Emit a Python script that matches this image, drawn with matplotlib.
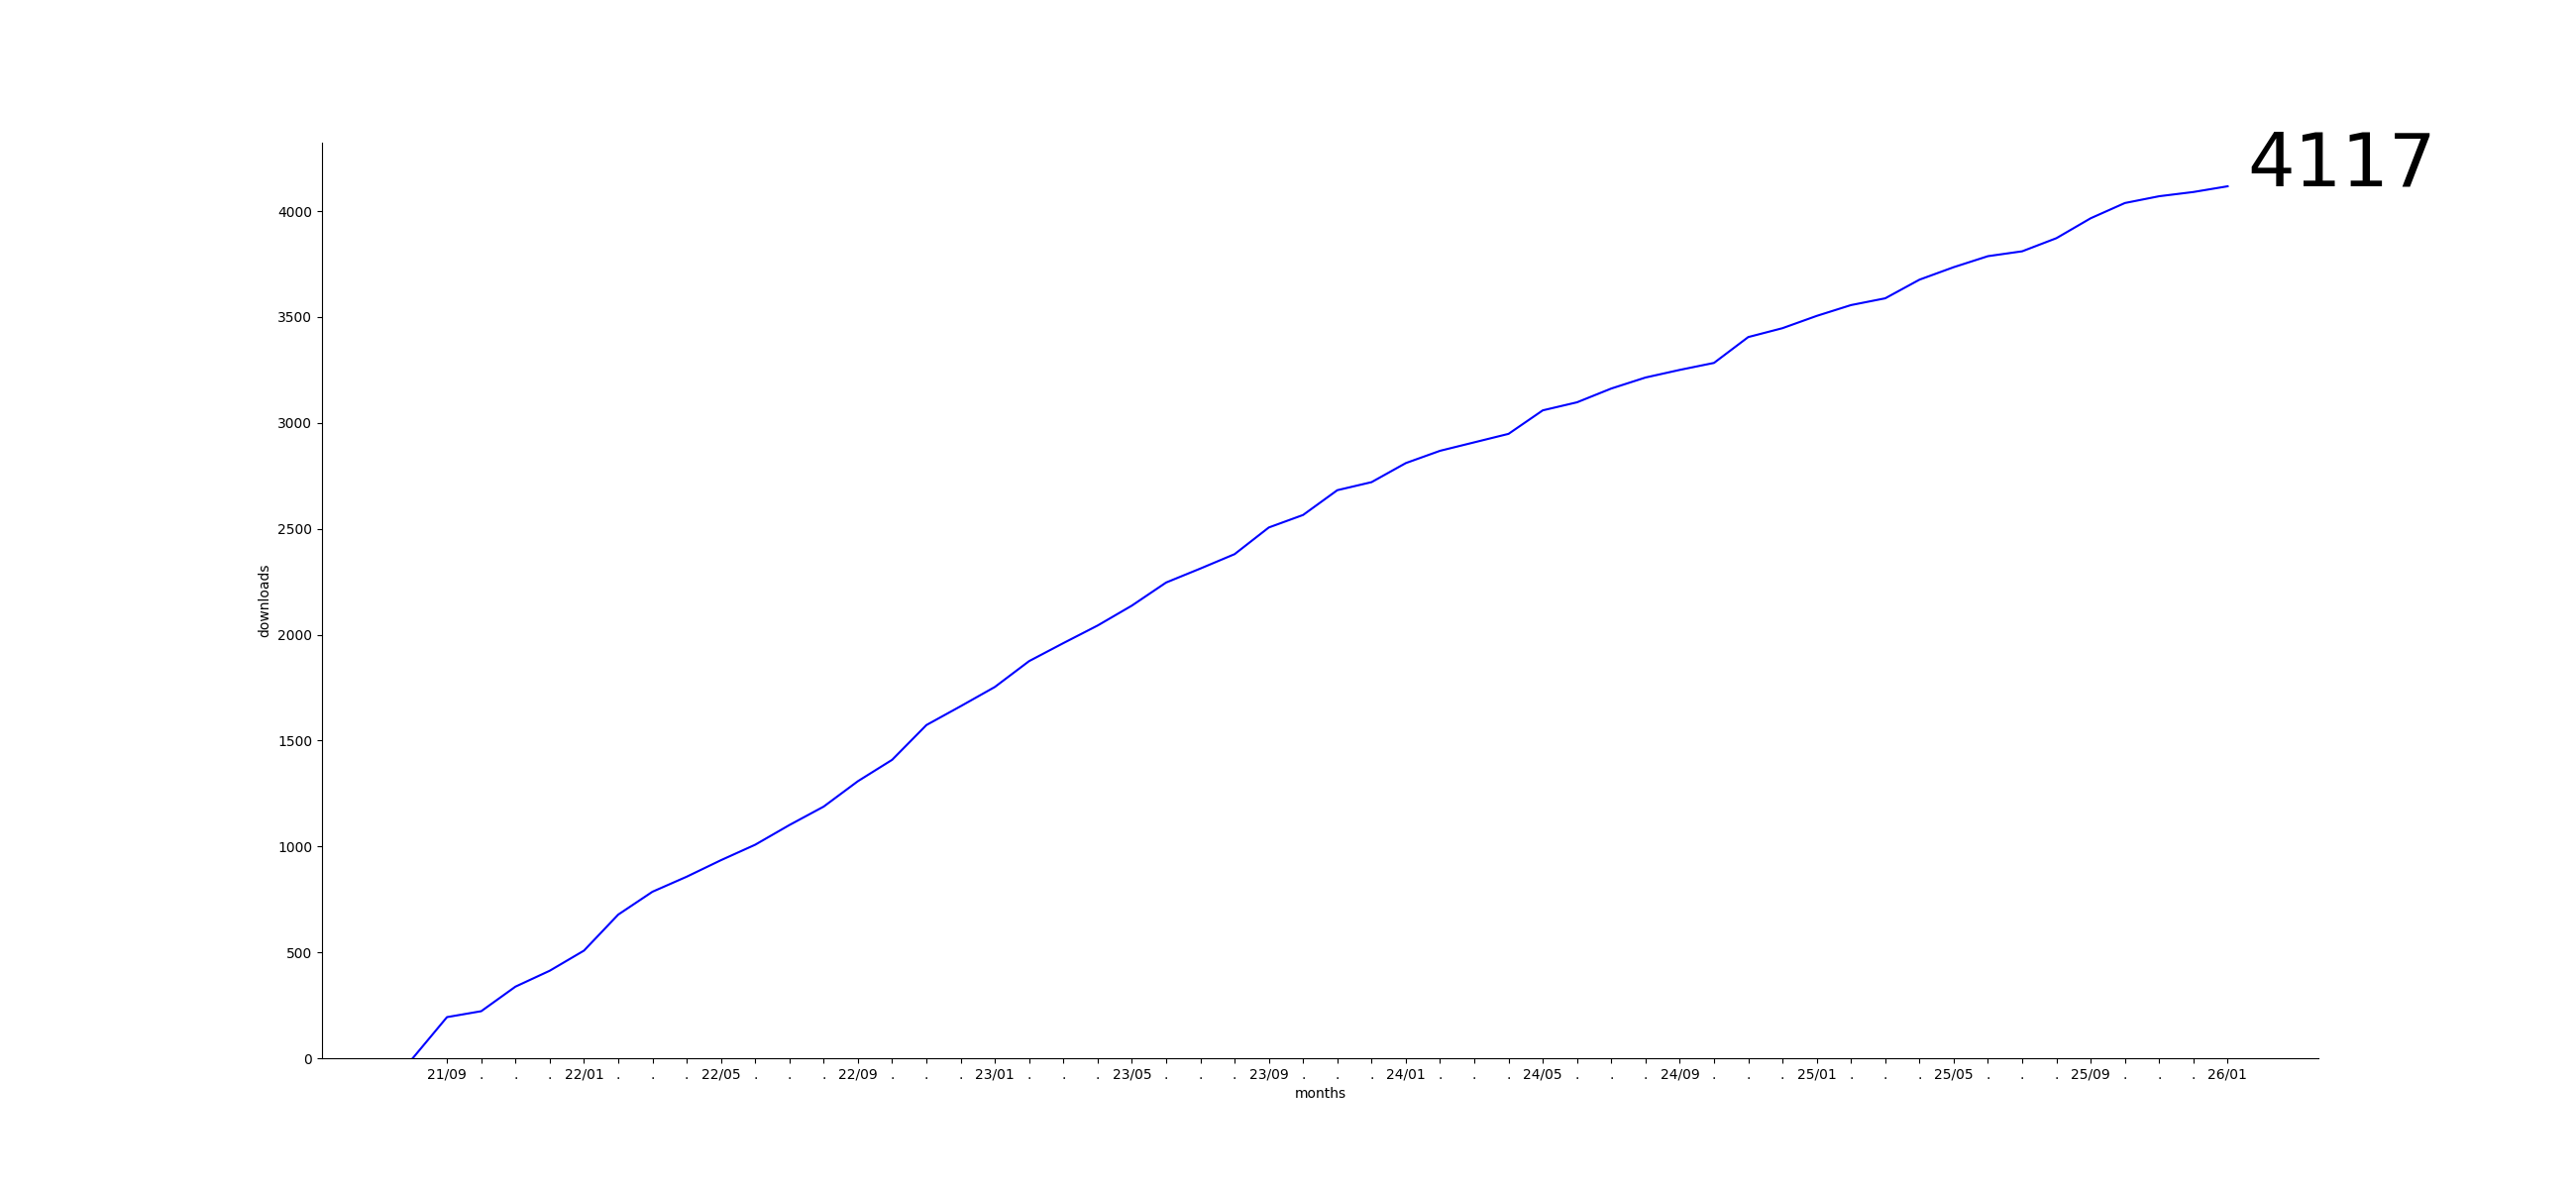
import matplotlib
matplotlib.use("Agg")
import matplotlib.pyplot as plt

months = ["21/08", "21/09", "21/10", "21/11", "21/12",
          "22/01", "22/02", "22/03", "22/04", "22/05", "22/06", "22/07", "22/08",
          "22/09", "22/10", "22/11", "22/12",
          "23/01", "23/02", "23/03", "23/04", "23/05", "23/06", "23/07", "23/08",
          "23/09", "23/10", "23/11", "23/12",
          "24/01", "24/02", "24/03", "24/04", "24/05", "24/06", "24/07", "24/08",
          "24/09", "24/10", "24/11", "24/12",
          "25/01", "25/02", "25/03", "25/04", "25/05", "25/06", "25/07", "25/08",
          "25/09", "25/10", "25/11", "25/12",
          "26/01"]

downloads = [0, 194, 222, 338, 413,
             508, 678, 786, 857, 935, 1008, 1101, 1188,
             1308, 1409, 1573, 1662,
             1753, 1875, 1960, 2043, 2137, 2246, 2312, 2380,
             2506, 2565, 2682, 2720,
             2810, 2868, 2908, 2948, 3059, 3097, 3162, 3214,
             3250, 3283, 3405, 3447,
             3505, 3556, 3588, 3676, 3735, 3787, 3810, 3872,
             3966, 4038, 4070, 4090,
             4117]

fig, ax = plt.subplots(figsize=(26, 12), dpi=100)
x = list(range(len(months)))
ax.plot(x, downloads, color="blue", linewidth=1.5)

tick_pos = x[1:]
tick_labels = []
for i in tick_pos:
    tick_labels.append(months[i] if (i - 1) % 4 == 0 else ".")
ax.set_xticks(tick_pos)
ax.set_xticklabels(tick_labels)

ax.set_ylim(bottom=0)
ax.spines["top"].set_visible(False)
ax.spines["right"].set_visible(False)
ax.set_xlabel("months")
ax.set_ylabel("downloads")

ax.annotate(str(downloads[-1]), xy=(x[-1], downloads[-1]),
            xytext=(14, 0), textcoords="offset points",
            fontsize=54, va="baseline", ha="left")

fig.savefig("out.png", dpi=100)
